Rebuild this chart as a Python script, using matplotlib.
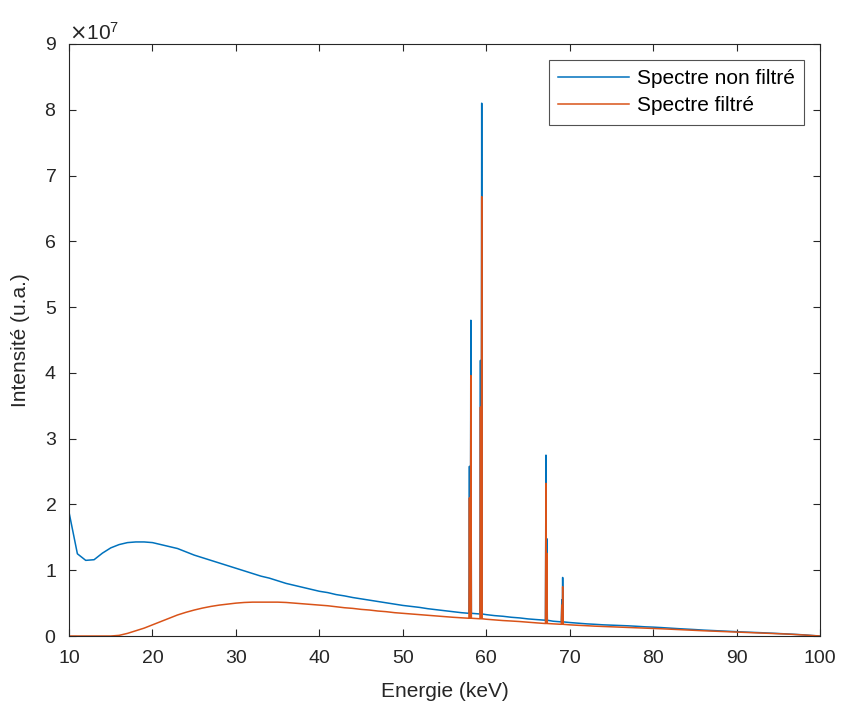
import numpy as np
import matplotlib.pyplot as plt
from matplotlib.ticker import ScalarFormatter

# Continuum (x1e7), read on a 1 keV grid
energie = np.arange(10, 101)
non_filtre = [1.88, 1.25, 1.15, 1.16, 1.26, 1.34, 1.39, 1.42, 1.43, 1.43,
              1.42, 1.39, 1.36, 1.33, 1.28, 1.23, 1.19, 1.15, 1.11, 1.07,
              1.03, 0.99, 0.95, 0.91, 0.88, 0.84, 0.80, 0.77, 0.74, 0.71,
              0.68, 0.66, 0.63, 0.61, 0.585, 0.565, 0.545, 0.525, 0.505, 0.485,
              0.465, 0.45, 0.435, 0.415, 0.40, 0.385, 0.37, 0.355, 0.345, 0.335,
              0.325, 0.31, 0.30, 0.285, 0.275, 0.26, 0.25, 0.24, 0.225, 0.215,
              0.205, 0.195, 0.185, 0.178, 0.17, 0.165, 0.16, 0.155, 0.148, 0.14,
              0.135, 0.128, 0.12, 0.112, 0.105, 0.098, 0.09, 0.084, 0.078, 0.072,
              0.066, 0.06, 0.055, 0.05, 0.044, 0.038, 0.032, 0.025, 0.018, 0.008,
              0.0]
filtre = [0, 0, 0, 0, 0, 0, 0.01, 0.04, 0.08, 0.12,
          0.17, 0.22, 0.27, 0.32, 0.36, 0.395, 0.425, 0.45, 0.47, 0.485,
          0.50, 0.51, 0.515, 0.515, 0.515, 0.515, 0.51, 0.50, 0.49, 0.48,
          0.47, 0.46, 0.445, 0.43, 0.42, 0.405, 0.395, 0.38, 0.37, 0.355,
          0.345, 0.335, 0.325, 0.315, 0.305, 0.295, 0.285, 0.277, 0.27, 0.262,
          0.255, 0.245, 0.235, 0.228, 0.22, 0.21, 0.20, 0.19, 0.185, 0.178,
          0.17, 0.163, 0.157, 0.15, 0.145, 0.14, 0.135, 0.13, 0.125, 0.12,
          0.115, 0.11, 0.104, 0.098, 0.092, 0.086, 0.08, 0.075, 0.07, 0.065,
          0.06, 0.055, 0.05, 0.045, 0.04, 0.035, 0.03, 0.023, 0.016, 0.008,
          0.0]

# Raies caracteristiques (x1e7)
raies_e = [57.98, 58.15, 59.30, 59.45, 67.15, 67.25, 69.05, 69.15]
raies_nf = [2.58, 4.80, 4.19, 8.10, 2.75, 1.48, 0.55, 0.89]
raies_f = [2.10, 3.96, 3.48, 6.68, 2.32, 1.26, 0.47, 0.75]


def spectre(cont, raies):
    pts = {}
    for e, v in zip(energie, cont):
        pts[float(e)] = v
    for e, v in zip(raies_e, raies):
        base = cont[int(round(e)) - 10]
        pts.pop(float(round(e)), None)
        pts[e - 0.06] = base
        pts[e] = v
        pts[e + 0.06] = base
    xs = sorted(pts)
    return np.array(xs), np.array([pts[x] for x in xs]) * 1e7


x1, y1 = spectre(non_filtre, raies_nf)
x2, y2 = spectre(filtre, raies_f)

plt.rcParams['font.family'] = ['Liberation Sans', 'DejaVu Sans']
fig = plt.figure(figsize=(8.42, 7.07), dpi=100)
ax = fig.add_axes([0.082, 0.1004, 0.892, 0.8374])

ax.plot(x1, y1, color='#0072BD', lw=1.1, label='Spectre non filtré')
ax.plot(x2, y2, color='#D95319', lw=1.1, label='Spectre filtré')

ax.set_xlim(10, 100)
ax.set_ylim(0, 9e7)
ax.set_xticks(np.arange(10, 101, 10))
ax.set_yticks(np.arange(0, 9.1e7, 1e7))
fmt = ScalarFormatter(useMathText=True)
fmt.set_powerlimits((0, 0))
ax.yaxis.set_major_formatter(fmt)
ax.yaxis.get_offset_text().set_fontsize(15)
ax.yaxis.get_offset_text().set_color('#262626')

ax.tick_params(direction='in', length=5, width=0.8, labelsize=14,
               colors='#262626', top=True, right=True)
ax.tick_params(axis='x', pad=10)
ax.tick_params(axis='y', pad=9)
for s in ax.spines.values():
    s.set_color('#262626')
    s.set_linewidth(0.8)

ax.set_xlabel('Energie (keV)', fontsize=15, color='#262626', labelpad=11)
ax.set_ylabel('Intensité (u.a.)', fontsize=15, color='#262626', labelpad=10)

leg = ax.legend(loc='upper right', fontsize=15, frameon=True, fancybox=False,
                edgecolor='#262626', handlelength=3.4, borderaxespad=0.75,
                labelspacing=0.4, borderpad=0.45, handletextpad=0.4)
leg.get_frame().set_linewidth(0.8)

fig.savefig('out.png', dpi=100)
